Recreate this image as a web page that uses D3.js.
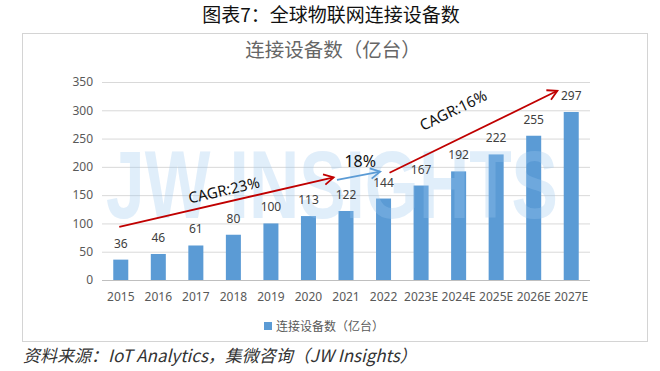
<!DOCTYPE html>
<html><head><meta charset="utf-8">
<script src="https://cdn.jsdelivr.net/npm/d3@7"></script>
<style>body{margin:0;background:#fff}svg{display:block}</style>
</head><body>
<script>
const categories = ["2015","2016","2017","2018","2019","2020","2021","2022","2023E","2024E","2025E","2026E","2027E"];
const values = [36,46,61,80,100,113,122,144,167,192,222,255,297];
const yTicks = [0,50,100,150,200,250,300,350];
const seriesName = "连接设备数（亿台）";
const mainTitle = "图表7：全球物联网连接设备数";
const sourceText = "资料来源：IoT Analytics，集微咨询（JW Insights）";
// annotation arrows: [category, band offset, value]
const arrows = [
  {from:["2015",-0.04,94], to:["2021",-0.33,181.5], color:"#c00000", label:"CAGR:23%", lpos:["2018",-0.22,149.5], size:15},
  {from:["2021",-0.24,177], to:["2022",-0.09,191.5], color:"#5b9bd5", label:"18%", lpos:["2021",0.38,200.5], size:16, flat:true},
  {from:["2022",0.16,189.5], to:["2027E",-0.37,334.5], color:"#c00000", label:"CAGR:16%", lpos:["2024E",-0.08,291.5], size:15}
];

const W=660,H=371;
const svg=d3.select("body").append("svg").attr("width",W).attr("height",H)
  .style("font-family","'Noto Sans CJK SC','Noto Sans',sans-serif");

svg.append("text").attr("x",331).attr("y",22).attr("text-anchor","middle")
  .attr("font-size",19).attr("fill","#111").attr("font-weight",400).text(mainTitle);

svg.append("rect").attr("x",22.5).attr("y",33.5).attr("width",625).attr("height",308)
  .attr("fill","#fff").attr("stroke","#d4d4d4");

svg.append("text").attr("x",333).attr("y",57).attr("text-anchor","middle")
  .attr("font-size",19.5).attr("fill","#666").text(seriesName);

const x=d3.scaleBand().domain(categories).range([102,590]).paddingInner(0.6).paddingOuter(0.3);
const y=d3.scaleLinear().domain([0,350]).range([280,82]);

// grid
svg.append("g").selectAll("line").data(yTicks).join("line")
  .attr("x1",102).attr("x2",590).attr("y1",d=>y(d)+0.5).attr("y2",d=>y(d)+0.5)
  .attr("stroke",d=>d===0?"#bfbfbf":"#d9d9d9");

const yAxis=svg.append("g").attr("transform","translate(102,0)")
  .call(d3.axisLeft(y).tickValues(yTicks).tickSize(0).tickPadding(9));
yAxis.select(".domain").remove();
yAxis.selectAll("text").attr("font-size",12).attr("fill","#595959").attr("font-family","'Noto Sans','Open Sans',sans-serif");

const xAxis=svg.append("g").attr("transform","translate(0,280)")
  .call(d3.axisBottom(x).tickSize(0).tickPadding(12));
xAxis.select(".domain").remove();
xAxis.selectAll("text").attr("font-size",12).attr("fill","#595959").attr("font-family","'Noto Sans','Open Sans',sans-serif");

// bars
svg.append("g").selectAll("rect").data(values).join("rect")
  .attr("x",(d,i)=>x(categories[i])).attr("width",x.bandwidth())
  .attr("y",d=>y(d)).attr("height",d=>y(0)-y(d)).attr("fill","#5b9bd5");

// watermark
svg.append("text").attr("x",106).attr("y",218).attr("font-size",96).attr("font-weight",700)
  .attr("font-family","'Liberation Sans','DejaVu Sans',sans-serif")
  .attr("textLength",452).attr("lengthAdjust","spacingAndGlyphs")
  .attr("fill","#9cc8f0").attr("opacity",0.3).text("JW INSIGHTS");

// value labels
svg.append("g").selectAll("text").data(values).join("text")
  .attr("x",(d,i)=>x(categories[i])+x.bandwidth()/2).attr("y",d=>y(d)-12)
  .attr("text-anchor","middle").attr("font-size",12).attr("fill","#404040")
  .attr("font-family","'Noto Sans','Open Sans',sans-serif").text(d=>d);

// arrows
const px=p=>x(p[0])+x.bandwidth()/2+p[1]*x.step();
arrows.forEach(a=>{
  const x1=px(a.from),y1=y(a.from[2]),x2=px(a.to),y2=y(a.to[2]);
  const ang=Math.atan2(y2-y1,x2-x1);
  svg.append("line").attr("x1",x1).attr("y1",y1).attr("x2",x2).attr("y2",y2)
    .attr("stroke",a.color).attr("stroke-width",1.8);
  const L=11,s=0.5;
  const p1=[x2-L*Math.cos(ang-s),y2-L*Math.sin(ang-s)];
  const p2=[x2-L*Math.cos(ang+s),y2-L*Math.sin(ang+s)];
  svg.append("path").attr("d",`M${p1}L${x2},${y2}L${p2}`).attr("fill","none")
    .attr("stroke",a.color).attr("stroke-width",1.8);
  const lx=px(a.lpos),ly=y(a.lpos[2]);
  const deg=a.flat?0:ang*180/Math.PI;
  svg.append("text").attr("transform",`translate(${lx},${ly}) rotate(${deg})`)
    .attr("text-anchor","middle").attr("font-size",a.size).attr("fill","#111")
    .attr("font-family","'Noto Sans','Open Sans',sans-serif").text(a.label);
});

// legend
svg.append("rect").attr("x",264).attr("y",322).attr("width",8).attr("height",8).attr("fill","#5b9bd5");
svg.append("text").attr("x",276).attr("y",330.5).attr("font-size",12).attr("fill","#595959").text(seriesName);

svg.append("text").attr("x",23).attr("y",362).attr("font-size",17).attr("font-style","italic")
  .attr("fill","#333").text(sourceText);
</script>
</body></html>
